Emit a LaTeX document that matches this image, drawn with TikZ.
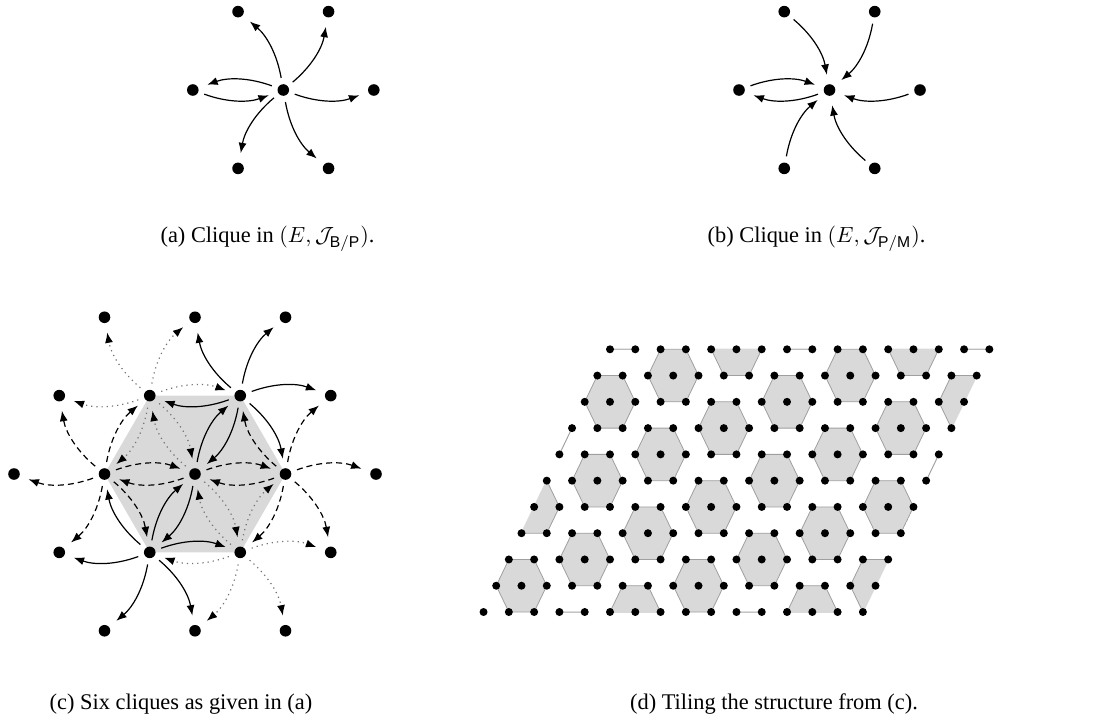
\documentclass[tikz,border=0pt]{standalone}
\usepackage{fontspec}
\setmainfont{Liberation Serif}
\setsansfont{Liberation Sans}
\usetikzlibrary{arrows.meta, calc}

\begin{document}
\begin{tikzpicture}[
  x=0.5pt, y=0.5pt,
  vtx/.style     = {circle, fill=black, inner sep=0pt, minimum size=5.8pt},
  tvtx/.style    = {circle, fill=black, inner sep=0pt, minimum size=4pt},
  arr/.style     = {-{Latex[length=5.2pt, width=4pt, color=black]}, line width=0.6pt, shorten <=3pt, shorten >=4.6pt},
  solarr/.style  = {arr},
  dasharr/.style = {arr, dash pattern=on 3pt off 2pt},
  dotarr/.style  = {arr, black!55, dotted},
  hexfill/.style = {fill=gray!30},
  tile/.style    = {fill=gray!30, draw=gray!75, line width=0.4pt},
  capt/.style    = {font=\fontsize{11.2}{13}\selectfont},
]
  \useasboundingbox (0,0) rectangle (1094,-723);

  % (a) one clique, arrows leave the middle vertex
  \node[vtx] (a-c) at (283.3,-90) {};
  \foreach \k in {0,...,5}
    \node[vtx] (a-\k) at ([shift={(60*\k:90.5)}]a-c) {};
  \foreach \k in {0,...,5}
    \draw[solarr] (a-c) to[bend right=20] (a-\k);
  \draw[solarr] (a-3) to[bend right=20] (a-c);

  % (b) same clique, arrows reversed
  \node[vtx] (b-c) at (829.5,-90) {};
  \foreach \k in {0,...,5}
    \node[vtx] (b-\k) at ([shift={(60*\k:90.5)}]b-c) {};
  \foreach \k in {0,...,5}
    \draw[solarr] (b-\k) to[bend left=20] (b-c);
  \draw[solarr] (b-c) to[bend left=20] (b-3);

  % (c) six cliques around the middle vertex
  \coordinate (c-o) at (195,-474);
  \fill[hexfill] ($(c-o)+(0:90.5)$) -- ($(c-o)+(60:90.5)$) -- ($(c-o)+(120:90.5)$)
    -- ($(c-o)+(180:90.5)$) -- ($(c-o)+(240:90.5)$) -- ($(c-o)+(300:90.5)$) -- cycle;
  \node[vtx] (c-c) at (c-o) {};
  \foreach \k in {0,...,5}{
    \node[vtx] (h-\k) at ([shift={(60*\k:90.5)}]c-o) {};
    \node[vtx] (o-\k) at ([shift={(60*\k:181)}]c-o) {};
    \node[vtx] (s-\k) at ([shift={(60*\k+30:156.75)}]c-o) {};
  }
  \foreach \k/\st in {0/dasharr, 1/solarr, 2/dotarr, 3/dasharr, 4/solarr, 5/dotarr}{
    \pgfmathtruncatemacro{\kn}{mod(\k+1,6)}
    \pgfmathtruncatemacro{\kp}{mod(\k+5,6)}
    \draw[\st] (h-\k) to[bend left=20] (o-\k);
    \draw[\st] (h-\k) to[bend left=20] (s-\k);
    \draw[\st] (h-\k) to[bend left=20] (h-\kn);
    \draw[\st] (h-\k) to[bend left=20] (c-c);
    \draw[\st] (c-c) to[bend left=20] (h-\k);
    \draw[\st] (h-\k) to[bend left=20] (h-\kp);
    \draw[\st] (h-\k) to[bend left=20] (s-\kp);
  }

  % (d) tiling, lattice coordinates i (along rows) and j (rows downwards)
  \begin{scope}[shift={(305pt,-174.65pt)}, x={(12.645pt,0pt)}, y={(-6.3225pt,-13.135pt)}]
    \begin{scope}
      \clip (-0.03,-0.03) -- (15.03,-0.03) -- (15.03,10.03) -- (-0.03,10.03) -- cycle;
      \foreach \b in {-1,...,11}
        \foreach \a in {-1,...,16}{
          \pgfmathtruncatemacro{\r}{mod(\a+2*\b+70,7)}
          \ifnum\r=5
            \filldraw[tile] (\a+1,\b) -- (\a+1,\b+1) -- (\a,\b+1) -- (\a-1,\b)
              -- (\a-1,\b-1) -- (\a,\b-1) -- cycle;
          \fi
        }
    \end{scope}
    \foreach \j in {0,...,10}
      \foreach \i in {0,...,15}
        \node[tvtx] (t-\i-\j) at (\i,\j) {};
  \end{scope}

  % captions
  \node[capt] (cap-a) at (267.5,-239) {(a) Clique in $(E,\mathcal{J}_{\mathsf{B/P}})$.};
  \node[capt] (cap-b) at (816.5,-239) {(b) Clique in $(E,\mathcal{J}_{\mathsf{P/M}})$.};
  \node[capt] (cap-c) at (181,-704) {(c) Six cliques as given in (a)};
  \node[capt] (cap-d) at (774,-704) {(d) Tiling the structure from (c).};
\end{tikzpicture}
\end{document}
